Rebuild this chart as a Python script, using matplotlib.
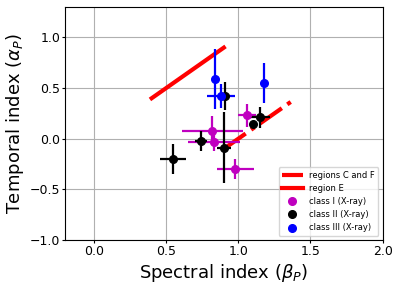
import matplotlib
matplotlib.use('Agg')
import matplotlib.pyplot as plt

# region lines
region_cf_x = [0.9, 1.4]
region_cf_y = [-0.1, 0.4]
region_e_x = [0.4, 0.9]
region_e_y = [0.4, 0.9]

# class I (X-ray)
c1_beta = [0.82, 0.83, 1.06, 0.98]
c1_beta_err = [0.21, 0.18, 0.06, 0.13]
c1_alpha = [0.08, -0.03, 0.23, -0.30]
c1_alpha_err = [0.14, 0.09, 0.11, 0.10]

# class II (X-ray)
c2_beta = [0.55, 0.74, 0.90, 0.91, 1.10, 1.15]
c2_beta_err = [0.09, 0.04, 0.05, 0.03, 0.0, 0.07]
c2_alpha = [-0.20, -0.02, -0.09, 0.42, 0.145, 0.21]
c2_alpha_err = [0.15, 0.10, 0.35, 0.14, 0.0, 0.10]

# class III (X-ray)
c3_beta = [0.84, 0.88, 1.18]
c3_beta_err = [0.0, 0.10, 0.0]
c3_alpha = [0.59, 0.42, 0.55]
c3_alpha_err = [0.30, 0.12, 0.20]

fig = plt.figure(figsize=(3.99, 2.85), dpi=100)
ax = fig.add_axes([0.163, 0.158, 0.796, 0.817])

ax.plot(region_cf_x, region_cf_y, color='red', linestyle='-.', linewidth=3,
        label='regions C and F', zorder=3)
ax.plot(region_e_x, region_e_y, color='red', linestyle='-', linewidth=3,
        label='region E', zorder=3)

for bx, bxe, ay, aye, col, lab in [
        (c1_beta, c1_beta_err, c1_alpha, c1_alpha_err, 'm', 'class I (X-ray)'),
        (c2_beta, c2_beta_err, c2_alpha, c2_alpha_err, 'k', 'class II (X-ray)'),
        (c3_beta, c3_beta_err, c3_alpha, c3_alpha_err, 'b', 'class III (X-ray)')]:
    ax.errorbar(bx, ay, xerr=bxe, yerr=aye, fmt='none', ecolor=col,
                elinewidth=1.6, zorder=4)
    ax.plot(bx, ay, 'o', color=col, markersize=5.5, label=lab, zorder=5)

ax.set_xlim(-0.2, 2.0)
ax.set_ylim(-1.0, 1.3)
ax.set_xticks([0.0, 0.5, 1.0, 1.5, 2.0])
ax.set_yticks([-1.0, -0.5, 0.0, 0.5, 1.0])
ax.tick_params(labelsize=9, length=2, pad=1.5)
ax.grid(True, color='#b0b0b0', linewidth=0.8)
ax.set_axisbelow(True)

ax.set_xlabel(r'Spectral index ($\beta_P$)', fontsize=13, labelpad=3)
ax.set_ylabel(r'Temporal index ($\alpha_P$)', fontsize=13, labelpad=3)

ax.legend(loc='lower right', fontsize=6, handlelength=2.5)

fig.savefig('out.png', dpi=100)
